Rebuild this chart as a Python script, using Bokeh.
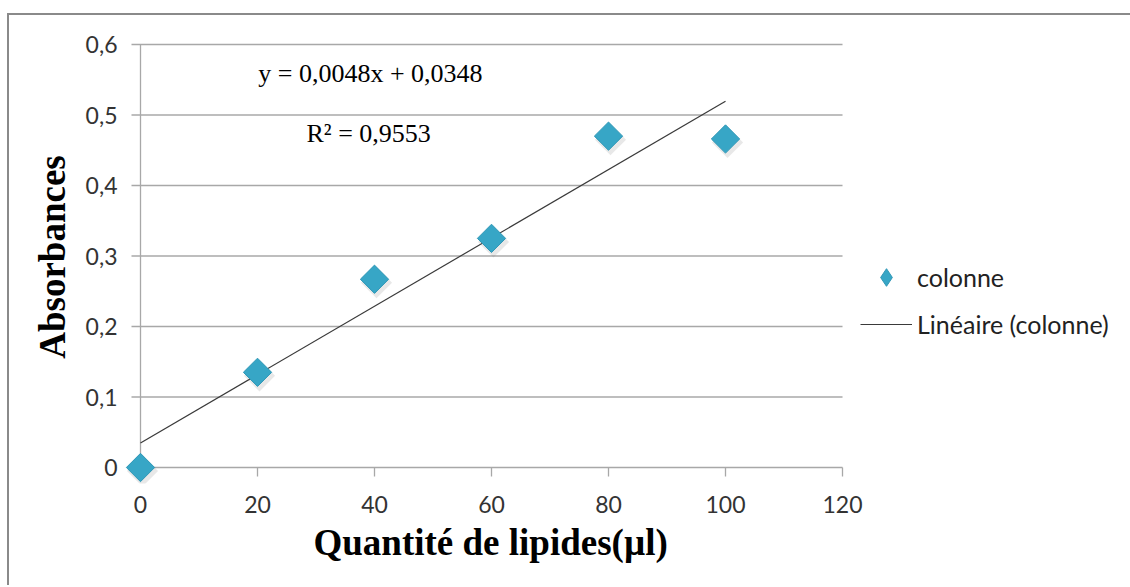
import numpy as np
from bokeh.plotting import figure
from bokeh.layouts import column
from bokeh.models import (ColumnDataSource, Label, Legend, LegendItem, FixedTicker, Title)
from bokeh.transform import dodge
from bokeh.embed import file_html
from bokeh.resources import INLINE

# ---- data ----
quantite = [0, 20, 40, 60, 80, 100]
absorbance = [0.0, 0.135, 0.267, 0.325, 0.470, 0.466]
x_ticks = [0, 20, 40, 60, 80, 100, 120]
y_ticks = [0, 0.1, 0.2, 0.3, 0.4, 0.5, 0.6]
y_tick_labels = ["0", "0,1", "0,2", "0,3", "0,4", "0,5", "0,6"]
equation_text = "y = 0,0048x + 0,0348"
r2_text = "R² = 0,9553"
series_name = "colonne"
trend_name = "Linéaire (colonne)"
x_title = "Quantité de lipides(µl)"
y_title = "Absorbances"

# linear trendline (least squares on the data)
slope, intercept = np.polyfit(quantite, absorbance, 1)
trend_x = [min(quantite), max(quantite)]
trend_y = [slope * v + intercept for v in trend_x]

# ---- geometry (pixels) ----
PLOT_W, PLOT_H = 702, 423           # axis area 0..120 x 0..0.6
PAD_L, PAD_B, PAD_T = 16, 16, 14    # extra frame room so markers are not clipped
PAD_R = 288                         # room for the legend
TICK = 9
xmin, xmax = x_ticks[0], x_ticks[-1]
ymin, ymax = y_ticks[0], y_ticks[-1]
ppx = PLOT_W / (xmax - xmin)
ppy = PLOT_H / (ymax - ymin)
x_range = (xmin - PAD_L / ppx, xmax + PAD_R / ppx)
y_range = (ymin - PAD_B / ppy, ymax + PAD_T / ppy)

src = ColumnDataSource(dict(x=quantite, y=absorbance))

p = figure(output_backend="svg", toolbar_location=None,
           frame_width=PLOT_W + PAD_L + PAD_R, frame_height=PLOT_H + PAD_B + PAD_T,
           x_range=x_range, y_range=y_range,
           min_border_left=115, min_border_top=15,
           min_border_right=0, min_border_bottom=102)
p.outline_line_color = None
p.background_fill_color = "white"
p.border_fill_color = "white"
p.xgrid.grid_line_color = None
p.ygrid.grid_line_color = None

AX_COLOR = "#a8a8a8"
# horizontal gridlines (extending left like Excel's outside ticks)
p.segment(x0=[xmin - TICK / ppx] * len(y_ticks), x1=[xmax] * len(y_ticks),
          y0=y_ticks, y1=y_ticks, line_color=AX_COLOR, line_width=1.3)
# vertical axis line
p.segment(x0=[xmin], x1=[xmin], y0=[ymin], y1=[ymax], line_color=AX_COLOR, line_width=1.3)
# x ticks
p.segment(x0=x_ticks, x1=x_ticks, y0=[ymin] * len(x_ticks),
          y1=[ymin - TICK / ppy] * len(x_ticks), line_color=AX_COLOR, line_width=1.3)

tick_font = "Lato"
for ax in (p.xaxis[0], p.yaxis[0]):
    ax.axis_line_color = None
    ax.major_tick_line_color = None
    ax.major_tick_in = 0
    ax.major_tick_out = 0
    ax.minor_tick_line_color = None
    ax.major_label_text_font = tick_font
    ax.major_label_text_font_size = "23px"
    ax.major_label_text_color = "#333333"
    ax.axis_label_text_font = "Liberation Serif"
    ax.axis_label_text_font_style = "bold"
    ax.axis_label_text_font_size = "37px"
    ax.axis_label_text_color = "#000000"

p.xaxis.ticker = FixedTicker(ticks=x_ticks)
p.yaxis.ticker = FixedTicker(ticks=y_ticks)
p.yaxis.major_label_overrides = {t: l for t, l in zip(y_ticks, y_tick_labels)}
p.yaxis.axis_label = y_title
p.xaxis.major_label_standoff = 12
p.yaxis.major_label_standoff = 7
p.yaxis.axis_label_standoff = 10

# x-axis title centred under the 0..120 area (frame is wider for the legend)
p.add_layout(Title(text=x_title, align="left", offset=189, standoff=8,
                   text_font="Liberation Serif", text_font_style="bold",
                   text_font_size="37px", text_color="#000000"), "below")

# trendline
trend = p.line(trend_x, trend_y, line_color="#3a3a3a", line_width=1.2)

# marker shadow
p.scatter(x=dodge("x", 2.0 / ppx, range=p.x_range), y=dodge("y", -3.5 / ppy, range=p.y_range),
          source=src, marker="square", angle=np.pi / 4, size=22,
          fill_color="#808080", fill_alpha=0.18, line_color=None)
# markers
pts = p.scatter(x="x", y="y", source=src, marker="square", angle=np.pi / 4,
                size=20, fill_color="#37a6c6", line_color="#2f97b6", line_width=1)
# legend key (diamond look, not drawn in the plot)
key = p.scatter(x=[np.nan], y=[np.nan], marker="diamond", size=20,
                fill_color="#37a6c6", line_color="#2f97b6", line_width=1)

# equation labels
p.add_layout(Label(x=39.3, y=0.559, text=equation_text, text_font="Liberation Serif",
                   text_font_size="26px", text_align="center", text_baseline="middle",
                   text_color="#000000"))
p.add_layout(Label(x=39.0, y=0.474, text=r2_text, text_font="Liberation Serif",
                   text_font_size="26px", text_align="center", text_baseline="middle",
                   text_color="#000000"))

legend = Legend(items=[LegendItem(label=series_name, renderers=[key]),
                       LegendItem(label=trend_name, renderers=[trend])],
                location=(PAD_L + PLOT_W + 18, PAD_B + 121), padding=0, margin=0,
                border_line_color=None, background_fill_alpha=0,
                glyph_width=52, glyph_height=44, label_height=44, spacing=3,
                label_standoff=5, label_text_font=tick_font,
                label_text_font_size="25px", label_text_color="#222222")
p.add_layout(legend)

page = column(p, styles={"border-top": "2px solid #8a8a8a",
                         "border-left": "2px solid #8a8a8a",
                         "margin-top": "13px", "margin-left": "7px"})

open("out.html", "w").write(file_html(page, INLINE))
